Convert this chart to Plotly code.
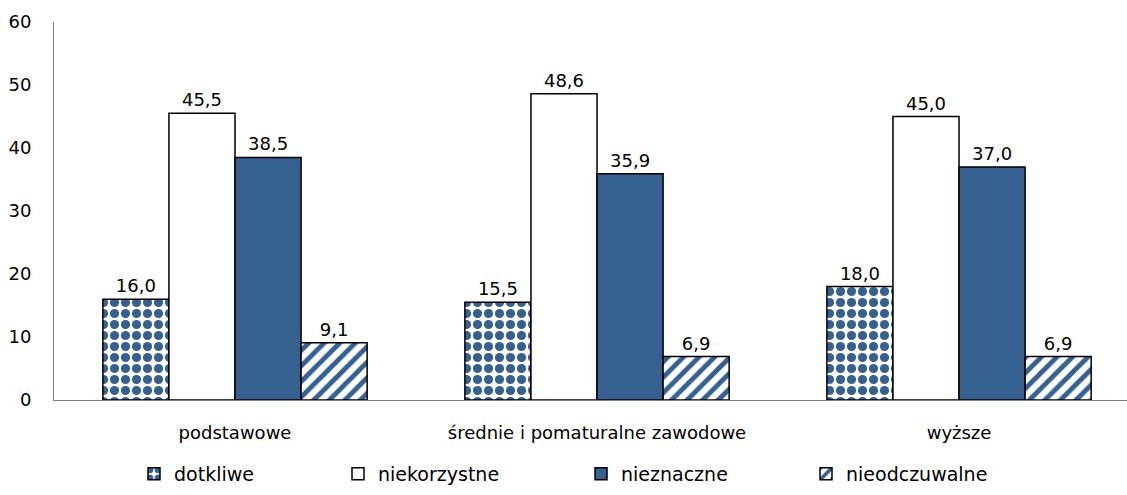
import plotly.graph_objects as go

categories = ["podstawowe", "średnie i pomaturalne zawodowe", "wyższe"]
series_names = ["dotkliwe", "niekorzystne", "nieznaczne", "nieodczuwalne"]
dotkliwe = [16.0, 15.5, 18.0]
niekorzystne = [45.5, 48.6, 45.0]
nieznaczne = [38.5, 35.9, 37.0]
nieodczuwalne = [9.1, 6.9, 6.9]
y_ticks = [0, 10, 20, 30, 40, 50, 60]

BLUE = "#35608F"
FONT = "DejaVu Sans"
W, H = 1127, 495

def fmt(vals):
    return [f"{v:.1f}".replace(".", ",") for v in vals]

styles = [
    dict(color="white", pattern=dict(shape=".", fgcolor=BLUE, bgcolor="white", size=11, solidity=0.55, fillmode="replace")),
    dict(color="white"),
    dict(color=BLUE),
    dict(color="white", pattern=dict(shape="/", fgcolor=BLUE, bgcolor="white", size=11, solidity=0.45, fillmode="replace")),
]
legend_ids = ["legend", "legend2", "legend3", "legend4"]
legend_text_x = [175, 379, 622, 847]  # pixel where each legend label starts

fig = go.Figure()
for name, vals, st, lid in zip(series_names, [dotkliwe, niekorzystne, nieznaczne, nieodczuwalne], styles, legend_ids):
    marker = dict(line=dict(color="black", width=1.5), **st)
    fig.add_trace(go.Bar(
        x=categories, y=vals, name=name, marker=marker, legend=lid,
        text=fmt(vals), textposition="outside", cliponaxis=False,
        textfont=dict(family=FONT, size=18, color="black"),
    ))

legend_layout = {}
for lid, tx in zip(legend_ids, legend_text_x):
    legend_layout[lid] = dict(
        orientation="h", xref="container", yref="container",
        x=(tx - 41) / W, xanchor="left", y=(H - 474) / H, yanchor="middle",
        font=dict(family=FONT, size=19, color="black"), bgcolor="rgba(0,0,0,0)",
    )

fig.update_layout(
    width=W, height=H,
    margin=dict(l=54, r=0, t=22, b=95),
    paper_bgcolor="white", plot_bgcolor="white",
    barmode="group", bargap=0.27, bargroupgap=0,
    font=dict(family=FONT, size=18, color="black"),
    showlegend=True,
    **legend_layout,
)
fig.update_xaxes(range=[-0.5, 2.464], showline=True, linecolor="#808080", linewidth=1,
                 ticks="", showgrid=False, tickfont=dict(size=18), automargin=False,
                 ticklabelstandoff=16)
fig.update_yaxes(range=[0, 60], tickvals=y_ticks, showline=True, linecolor="#808080", linewidth=1,
                 ticks="", showgrid=False, zeroline=False, tickfont=dict(size=18),
                 automargin=False, ticklabelstandoff=18)

fig.write_html("out.html", config={"displayModeBar": False})

# remove the browser's default 8px body margin so the figure sits at the page origin
with open("out.html", "r", encoding="utf-8") as f:
    html = f.read()
html = html.replace("<body>", '<body style="margin:0">', 1)
with open("out.html", "w", encoding="utf-8") as f:
    f.write(html)
